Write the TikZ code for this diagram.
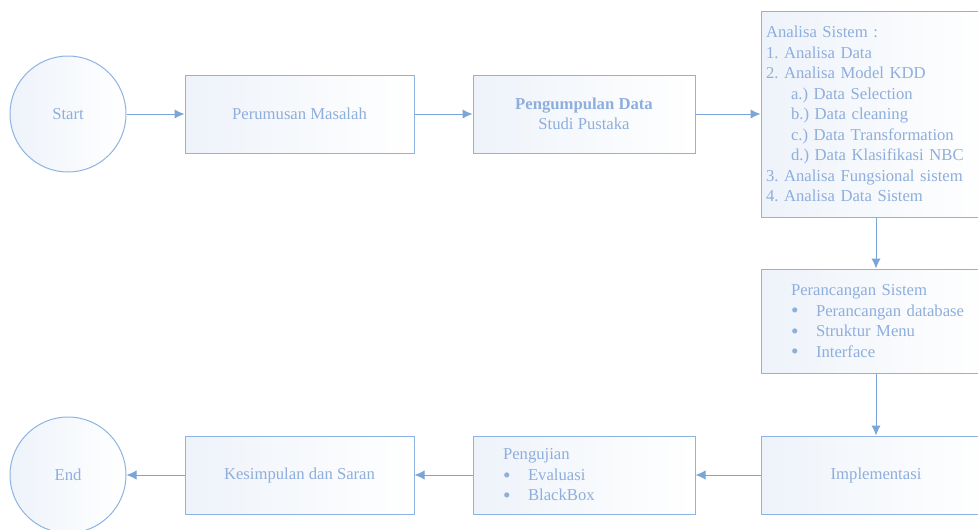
\documentclass[tikz,border=0pt]{standalone}
\usepackage{fontspec}
\setmainfont{Liberation Serif}
\usetikzlibrary{positioning, arrows.meta}

\definecolor{garisbiru}{HTML}{8DB3E2}
\definecolor{panahbiru}{HTML}{7AA5D8}
\definecolor{teksbiru}{HTML}{8EAEDC}
\definecolor{isibiru}{HTML}{EEF3FA}

\newcommand{\teks}{\fontsize{12.5pt}{15.4pt}\selectfont\frenchspacing}
\newcommand{\butir}[1]{\mbox{\makebox[18.75pt][l]{\raisebox{-1.3pt}[0pt][0pt]{\fontsize{16pt}{16pt}\selectfont\textbullet}}#1}}
\hfuzz=20pt

\begin{document}
\begin{tikzpicture}[
        x=0.75pt, y=-0.75pt, % satuan piksel gambar
        node distance=43.5pt, % jarak antar kotak
        panah/.style = {draw=panahbiru, line width=0.75pt, -{Latex[length=7.5pt, width=7pt]}},
        bulat/.style = {circle, draw=garisbiru, line width=0.75pt, left color=isibiru, right color=white,
                text=teksbiru, font=\teks, minimum size=87pt, inner sep=0pt},
        kotak/.style = {rectangle, draw=garisbiru, line width=0.75pt, left color=isibiru, right color=white,
                text=teksbiru, font=\teks, align=center, minimum height=58.5pt}, % Gaya kotak proses
    ]

    \useasboundingbox (0,0) rectangle (978,529);
    \clip (0,0) rectangle (978,529);

    % baris atas
    \node[bulat] (start) at (68,114) {Start};
    \node[kotak, minimum width=171.75pt, right=of start] (rumus) {Perumusan Masalah};
    \node[kotak, minimum width=166.5pt, right=of rumus] (kumpul) {\textbf{Pengumpulan Data}\\Studi Pustaka};
    \node[kotak, minimum height=154.5pt, text width=165pt, inner xsep=3.75pt, align=left,
        right=48.75pt of kumpul] (analisa) {Analisa Sistem :\\
        1. Analisa Data\\
        2. Analisa Model KDD\\
        \hspace*{18.75pt}a.) Data Selection\\
        \hspace*{18.75pt}b.) Data cleaning\\
        \hspace*{18.75pt}c.) Data Transformation\\
        \hspace*{18.75pt}d.) Data Klasifikasi NBC\\
        3. Analisa Fungsional sistem\\
        4. Analisa Data Sistem};

    % kolom kanan
    \node[kotak, minimum height=78pt, text width=127.5pt, inner xsep=22.5pt, align=left,
        below=38.25pt of analisa] (rancang) {Perancangan Sistem\\
        \butir{Perancangan database}\\
        \butir{Struktur Menu}\\
        \butir{Interface}};
    \node[kotak, minimum width=172.5pt, below=46.5pt of rancang] (implementasi) {Implementasi};

    % baris bawah
    \node[kotak, text width=121.5pt, inner xsep=22.5pt, align=left,
        left=48.75pt of implementasi] (uji) {Pengujian\\
        \butir{Evaluasi}\\
        \butir{BlackBox}};
    \node[kotak, minimum width=171.75pt, left=of uji] (simpul) {Kesimpulan dan Saran};
    \node[bulat, left=of simpul] (end) {End};

    \draw[panah] (start) -- (rumus);
    \draw[panah] (rumus) -- (kumpul);
    \draw[panah] (kumpul) -- (analisa);
    \draw[panah] (analisa) -- (rancang);
    \draw[panah] (rancang) -- (implementasi);
    \draw[panah] (implementasi) -- (uji);
    \draw[panah] (uji) -- (simpul);
    \draw[panah] (simpul) -- (end);
\end{tikzpicture}
\end{document}
